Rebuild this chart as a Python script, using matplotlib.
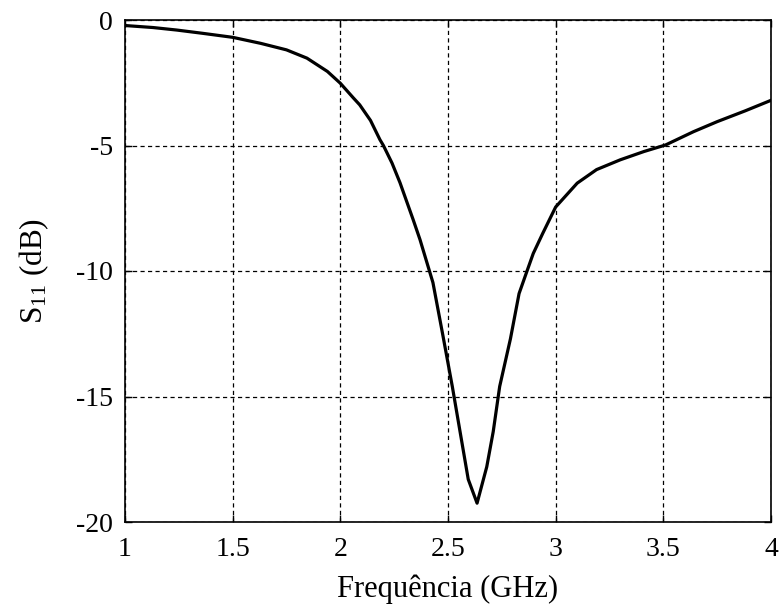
import numpy as np
import matplotlib
matplotlib.use("Agg")
import matplotlib.pyplot as plt

freq = [1.00, 1.13, 1.24, 1.36, 1.50, 1.63, 1.75, 1.845, 1.94, 2.00, 2.06,
        2.09, 2.14, 2.184, 2.20, 2.24, 2.277, 2.338, 2.37, 2.43, 2.477, 2.52,
        2.556, 2.594, 2.635, 2.68, 2.71, 2.74, 2.79, 2.83, 2.867, 2.896, 2.94,
        3.00, 3.10, 3.19, 3.30, 3.41, 3.51, 3.64, 3.75, 3.88, 4.00]
s11 = [-0.22, -0.30, -0.40, -0.53, -0.69, -0.93, -1.19, -1.52, -2.05, -2.52,
       -3.10, -3.38, -4.0, -4.77, -5.00, -5.7, -6.48, -7.95, -8.75, -10.46,
       -12.6, -14.6, -16.4, -18.3, -19.25, -17.8, -16.4, -14.6, -12.7, -10.9,
       -10.0, -9.3, -8.5, -7.45, -6.5, -5.96, -5.57, -5.24, -4.98, -4.45,
       -4.05, -3.62, -3.2]
xticks = [1, 1.5, 2, 2.5, 3, 3.5, 4]
xticklabels = ["1", "1.5", "2", "2.5", "3", "3.5", "4"]
yticks = [0, -5, -10, -15, -20]
yticklabels = ["0", "-5", "-10", "-15", "-20"]

plt.rcParams['font.family'] = ['Liberation Serif', 'DejaVu Serif']
plt.rcParams['mathtext.fontset'] = 'custom'
plt.rcParams['mathtext.rm'] = 'Liberation Serif'
plt.rcParams['mathtext.it'] = 'Liberation Serif:italic'
plt.rcParams['axes.unicode_minus'] = False
plt.rcParams['lines.scale_dashes'] = False

fig = plt.figure(figsize=(7.8, 6.06), dpi=100)
ax = fig.add_axes([125/780, 1 - 522/606, (771-125)/780, (522-20)/606])

ax.plot(freq, s11, color='black', lw=2.3, solid_joinstyle='round',
        solid_capstyle='round')

ax.set_xlim(1, 4)
ax.set_ylim(-20, 0)
ax.set_xticks(xticks)
ax.set_xticklabels(xticklabels)
ax.set_yticks(yticks)
ax.set_yticklabels(yticklabels)
ax.grid(True, color='black', lw=0.9, linestyle=(0, (3.0, 2.4)))
ax.tick_params(direction='in', length=5, width=1, top=True, right=True,
               labelsize=20)
ax.tick_params(axis='x', pad=10.5)
ax.tick_params(axis='y', pad=8.7)
for sp in ax.spines.values():
    sp.set_linewidth(1.2)
ax.set_xlabel('Frequência (GHz)', fontsize=22, labelpad=9)
ax.set_ylabel(r'S$_{11}$ (dB)', fontsize=22.5, labelpad=18)

fig.savefig('out.png', dpi=100)
